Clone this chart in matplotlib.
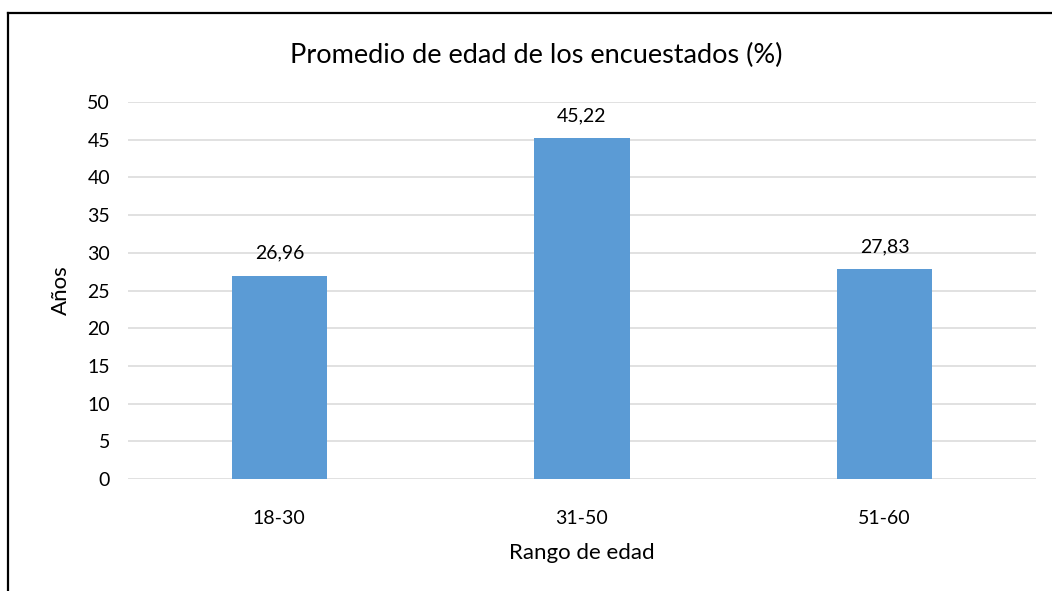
import matplotlib
matplotlib.use("Agg")
import matplotlib.pyplot as plt
from matplotlib.lines import Line2D

# datos del grafico
categorias = ["18-30", "31-50", "51-60"]
valores = [26.96, 45.22, 27.83]
yticks = [0, 5, 10, 15, 20, 25, 30, 35, 40, 45, 50]

plt.rcParams['font.family'] = ['Lato', 'DejaVu Sans']

fig = plt.figure(figsize=(10.52, 5.91), dpi=100)
ax = fig.add_axes([128 / 1052, 112 / 591, 908 / 1052, 377 / 591])

pos = range(len(categorias))
bars = ax.bar(pos, valores, width=0.314, color="#5B9BD5", zorder=3)

for b, v in zip(bars, valores):
    ax.annotate(f"{v:.2f}".replace(".", ","),
                (b.get_x() + b.get_width() / 2, v),
                xytext=(0, 10), textcoords="offset points",
                ha="center", va="bottom", fontsize=14, color="#000000")

ax.set_xlim(-0.5, len(categorias) - 0.5)
ax.set_ylim(0, 50)
ax.set_yticks(yticks)
ax.set_xticks(list(pos))
ax.set_xticklabels(categorias)
ax.grid(axis="y", color="#D9D9D9", linewidth=1.1, zorder=0)
for s in ax.spines.values():
    s.set_visible(False)
ax.tick_params(axis="both", length=0, labelsize=14, colors="#000000")
ax.tick_params(axis="y", pad=13)
ax.tick_params(axis="x", pad=22)

# titulo centrado en la figura, no en los ejes
fig.text(536 / 1052, 1 - 55 / 591, "Promedio de edad de los encuestados (%)",
         fontsize=19.5, ha="center", va="center")
ax.set_xlabel("Rango de edad", fontsize=16, labelpad=12)
ax.set_ylabel("Años", fontsize=16, labelpad=12)

# marco del grafico (solo arriba e izquierda visibles)
ytop = 1 - 12.5 / 591
xleft = 7.5 / 1052
fig.add_artist(Line2D([xleft, 1], [ytop, ytop], color="black", linewidth=1.6,
                      transform=fig.transFigure))
fig.add_artist(Line2D([xleft, xleft], [0, ytop], color="black", linewidth=1.6,
                      transform=fig.transFigure))

fig.savefig("out.png", dpi=100)
